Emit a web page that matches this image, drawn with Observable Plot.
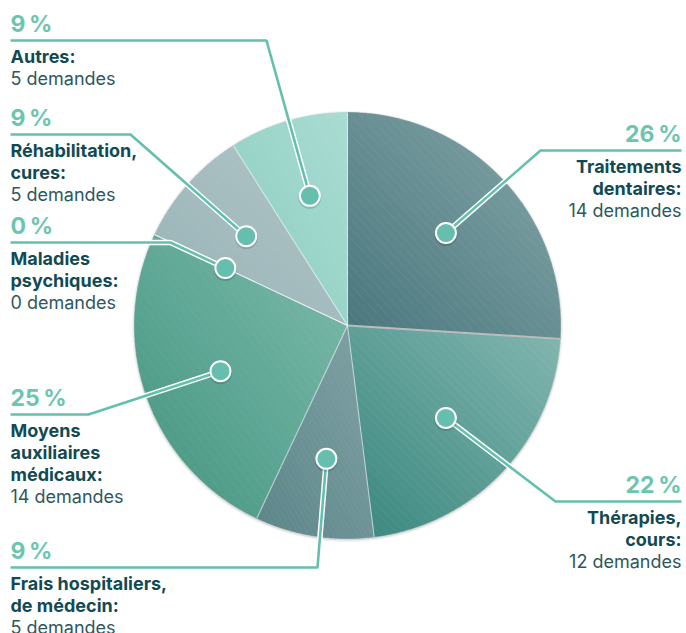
<!DOCTYPE html>
<html>
<head>
<meta charset="utf-8">
<script src="https://cdn.jsdelivr.net/npm/d3@7"></script>
<script src="https://cdn.jsdelivr.net/npm/@observablehq/plot@0.6"></script>
<style>
  html, body { margin: 0; padding: 0; background: #ffffff; }
  #chart svg { display: block; }
</style>
</head>
<body>
<div id="chart"></div>
<script>
// ---------- data ----------
const categories = [
  "Traitements dentaires",
  "Thérapies, cours",
  "Frais hospitaliers, de médecin",
  "Moyens auxiliaires médicaux",
  "Maladies psychiques",
  "Réhabilitation, cures",
  "Autres"
];
const labelLines = [
  ["Traitements", "dentaires:"],
  ["Thérapies,", "cours:"],
  ["Frais hospitaliers,", "de médecin:"],
  ["Moyens", "auxiliaires", "médicaux:"],
  ["Maladies", "psychiques:"],
  ["Réhabilitation,", "cures:"],
  ["Autres:"]
];
const percents = [26, 22, 9, 25, 0, 9, 9];
const demandes = [14, 12, 5, 14, 0, 5, 5];

// ---------- styles / layout ----------
const sliceDark  = ["#49767c", "#39867e", "#5b8589", "#43947f", "#6aaa9c", "#97b2b5", "#8bcdc0"];
const sliceLight = ["#85a7aa", "#82b6b0", "#81a2a5", "#7dbbad", "#7bbaac", "#b1c6c8", "#a9dcd2"];
// label side, y of horizontal leader, x of bend
const layout = [
  {side: "right", lineY: 150, bendX: 540},
  {side: "right", lineY: 501, bendX: 555},
  {side: "left",  lineY: 567, bendX: 317},
  {side: "left",  lineY: 414, bendX: 88},
  {side: "left",  lineY: 242, bendX: 170},
  {side: "left",  lineY: 134, bendX: 130},
  {side: "left",  lineY: 40,  bendX: 266}
];
const W = 686, H = 633;
const CX = 347, CY = 325, R = 213, RDOT = 135;
const teal = "#63c0ac";
const knobFill = "#66bfae";
const pctColor = "#6cc5ae";
const labelColor = "#124a53";
const subColor = "#2f575e";
const NSTRIPS = 48;

const pt = (deg, r) => {
  const a = deg * Math.PI / 180;
  return [CX + r * Math.sin(a), CY - r * Math.cos(a)];
};

// ---------- derived tables ----------
const total = d3.sum(percents);
let cum = 0;
const arcs = percents.map((p, i) => {
  const a0 = cum / total * 360; cum += p; const a1 = cum / total * 360;
  return {i, a0, a1, mid: (a0 + a1) / 2};
});

// convex polygon clip against half-plane f >= 0
function clip(poly, f) {
  const out = [];
  for (let k = 0; k < poly.length; k++) {
    const P = poly[k], Q = poly[(k + 1) % poly.length];
    const fp = f(P), fq = f(Q);
    if (fp >= 0) out.push(P);
    if ((fp >= 0) !== (fq >= 0)) {
      const s = fp / (fp - fq);
      out.push([P[0] + s * (Q[0] - P[0]), P[1] + s * (Q[1] - P[1])]);
    }
  }
  return out;
}

// wedge polygons split into gradient strips (bottom-left dark -> top-right light)
const stripPts = [];
arcs.forEach(({i, a0, a1}) => {
  if (a1 - a0 <= 0) return;
  const poly = [[CX, CY]];
  const steps = Math.max(2, Math.ceil((a1 - a0) / 0.5));
  for (let k = 0; k <= steps; k++) poly.push(pt(a0 + (a1 - a0) * k / steps, R));
  const xs = poly.map(p => p[0]), ys = poly.map(p => p[1]);
  const x0 = d3.min(xs), x1 = d3.max(xs), y0 = d3.min(ys), y1 = d3.max(ys);
  const t = p => ((p[0] - x0) / (x1 - x0) + (y1 - p[1]) / (y1 - y0)) / 2;
  const interp = d3.interpolateRgb(sliceDark[i], sliceLight[i]);
  for (let s = 0; s < NSTRIPS; s++) {
    const lo = s / NSTRIPS, hi = (s + 1) / NSTRIPS;
    let piece = clip(poly, p => (s === 0 ? 1 : t(p) - lo));
    piece = clip(piece, p => (s === NSTRIPS - 1 ? 1 : hi - t(p)));
    if (piece.length < 3) continue;
    const color = d3.color(interp((lo + hi) / 2)).formatHex();
    piece.forEach(([x, y]) => stripPts.push({key: `${i}-${s}`, x, y, color}));
  }
});

const seps = arcs.map(({i, a1}) => {
  const [x2, y2] = pt(a1, R);
  return {x1: CX, y1: CY, x2, y2, stroke: i === 0 ? "#bcbcbc" : "#ffffff", w: i === 0 ? 2 : 1.1, op: i === 0 ? 1 : 0.55};
});

const dots = arcs.map(({i, mid}) => {
  const [x, y] = pt(mid, RDOT);
  return {i, x, y};
});

const leaderPts = [];
dots.forEach(({i, x, y}) => {
  const L = layout[i];
  const endX = L.side === "left" ? 10 : 681;
  leaderPts.push({key: i, x, y});
  leaderPts.push({key: i, x: L.bendX, y: L.lineY});
  leaderPts.push({key: i, x: endX, y: L.lineY});
});

const pctText = categories.map((c, i) => {
  const L = layout[i];
  return {x: L.side === "left" ? 10 : 681, y: L.lineY - 9, text: `${percents[i]}\u202F%`, anchor: L.side === "left" ? "start" : "end"};
});
const labText = [];
const subText = [];
categories.forEach((c, i) => {
  const L = layout[i];
  const x = L.side === "left" ? 10 : 681;
  const anchor = L.side === "left" ? "start" : "end";
  labelLines[i].forEach((t, k) => labText.push({x, y: L.lineY + 22 + 22 * k, text: t, anchor}));
  subText.push({x, y: L.lineY + 22 + 22 * labelLines[i].length, text: `${demandes[i]} demandes`, anchor});
});

// ---------- plot ----------
const textMarks = (data, opts) => ["start", "end"].map(a =>
  Plot.text(data.filter(d => d.anchor === a), {
    x: "x", y: "y", text: "text", textAnchor: a, lineAnchor: "bottom", ...opts
  })
);

const svg = Plot.plot({
  width: W, height: H, margin: 0,
  x: {domain: [0, W], axis: null},
  y: {domain: [H, 0], axis: null},
  color: {type: "identity"},
  style: {fontFamily: "Inter, 'Noto Sans', sans-serif", background: "transparent"},
  marks: [
    // soft rim shadow
    Plot.dot([{x: CX, y: CY}], {x: "x", y: "y", r: R + 2.5, fill: "#000", fillOpacity: 0.05, stroke: "none", dy: 1}),
    Plot.dot([{x: CX, y: CY}], {x: "x", y: "y", r: R + 1, fill: "#000", fillOpacity: 0.1, stroke: "none", dy: 1}),
    // slices (gradient strips)
    Plot.line(stripPts, {x: "x", y: "y", z: "key", fill: "color", stroke: "color", strokeWidth: 0.6, strokeLinejoin: "round", curve: "linear-closed"}),
    Plot.link(seps, {x1: "x1", y1: "y1", x2: "x2", y2: "y2", stroke: "stroke", strokeWidth: "w", strokeOpacity: "op"}),
    // leaders
    Plot.line(leaderPts, {x: "x", y: "y", z: "key", stroke: "#ffffff", strokeWidth: 5.5, strokeLinejoin: "miter", strokeLinecap: "butt"}),
    Plot.line(leaderPts, {x: "x", y: "y", z: "key", stroke: teal, strokeWidth: 2.6, strokeLinejoin: "miter", strokeLinecap: "butt"}),
    Plot.dot(dots, {x: "x", y: "y", r: 11.5, fill: "#000", fillOpacity: 0.14, stroke: "none", dy: 1.5}),
    Plot.dot(dots, {x: "x", y: "y", r: 10, fill: knobFill, stroke: "#ffffff", strokeWidth: 2}),
    // labels
    ...textMarks(pctText, {fontSize: 23, fontWeight: 700, fill: pctColor}),
    ...textMarks(labText, {fontSize: 18, fontWeight: 700, fill: labelColor}),
    ...textMarks(subText, {fontSize: 18, fontWeight: 400, fill: subColor})
  ]
});

document.getElementById("chart").appendChild(svg);
</script>
</body>
</html>
